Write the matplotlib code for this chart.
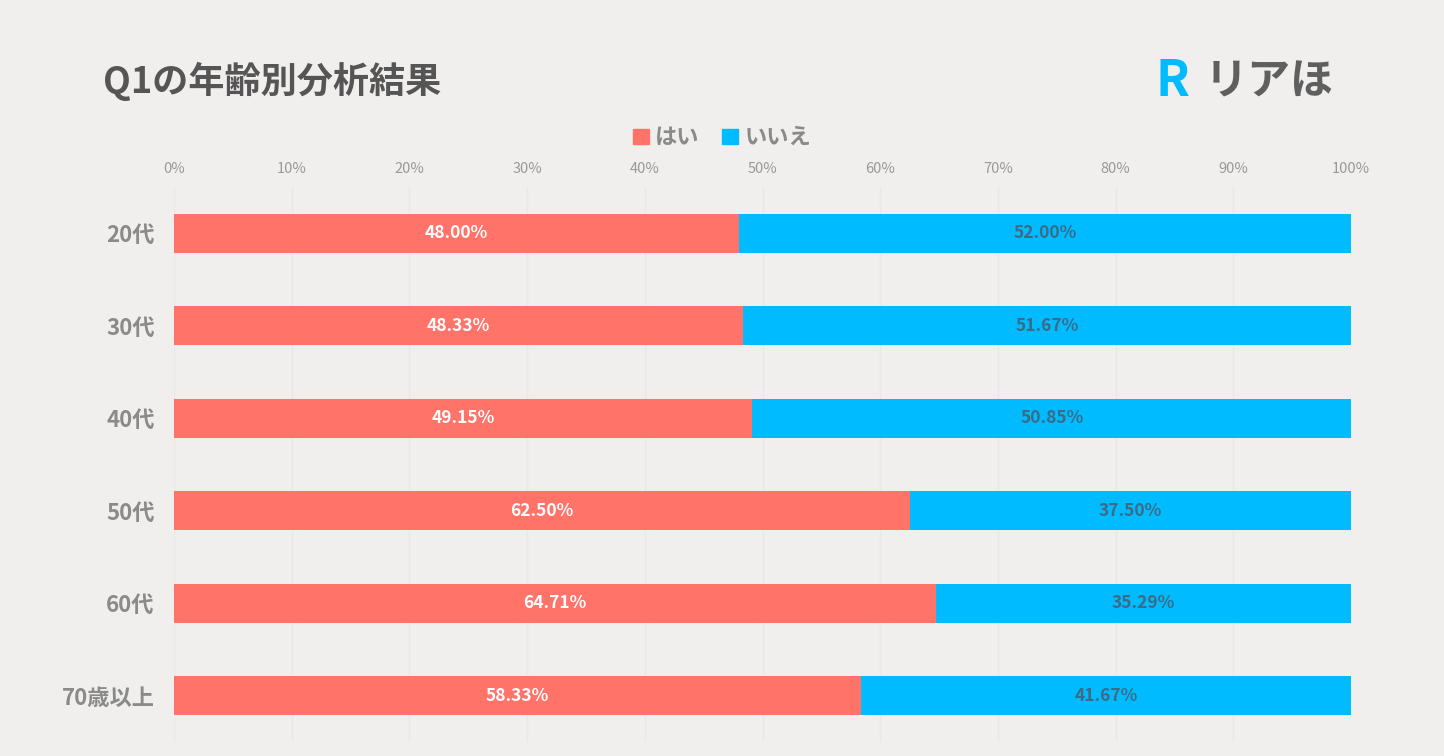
import matplotlib
matplotlib.use('Agg')
import matplotlib.pyplot as plt
from matplotlib.patches import Patch

plt.rcParams['font.family'] = ['Noto Sans CJK JP', 'DejaVu Sans']

categories = ['20代', '30代', '40代', '50代', '60代', '70歳以上']
yes_pct = [48.00, 48.33, 49.15, 62.50, 64.71, 58.33]
no_pct = [52.00, 51.67, 50.85, 37.50, 35.29, 41.67]
xticks = [0, 10, 20, 30, 40, 50, 60, 70, 80, 90, 100]

bg = '#f0efed'
red = '#ff7369'
blue = '#00bbff'

fig = plt.figure(figsize=(14.44, 7.56), dpi=100, facecolor=bg)
ax = fig.add_axes([0.1205, 0.0185, 0.8151, 0.7341], facecolor=bg)

y = list(range(len(categories)))
ax.barh(y, yes_pct, height=0.42, color=red, label='はい')
ax.barh(y, no_pct, left=yes_pct, height=0.42, color=blue, label='いいえ')

for i in y:
    ax.text(yes_pct[i] / 2, i, f'{yes_pct[i]:.2f}%', ha='center', va='center',
            color='white', fontsize=12.5, fontweight='bold')
    ax.text(yes_pct[i] + no_pct[i] / 2, i, f'{no_pct[i]:.2f}%', ha='center', va='center',
            color='#3d6a85', fontsize=12.5, fontweight='bold')

ax.set_xlim(0, 100)
ax.set_ylim(len(categories) - 0.5, -0.5)
ax.set_xticks(xticks)
ax.set_xticklabels([f'{t}%' for t in xticks], color='#999999', fontsize=10.5)
ax.xaxis.tick_top()
ax.tick_params(axis='x', length=0, pad=8)
ax.set_yticks(y)
ax.set_yticklabels(categories, color='#8a8a8a', fontsize=16, fontweight='bold')
ax.tick_params(axis='y', length=0, pad=14)
ax.grid(axis='x', color='#e6e9ec', linewidth=1)
ax.set_axisbelow(True)
for s in ax.spines.values():
    s.set_visible(False)

fig.text(0.071, 0.892, 'Q1の年齢別分析結果', fontsize=26, fontweight='bold',
         color='#555555', va='center')
fig.text(0.800, 0.892, 'R', fontsize=36, fontweight='bold', color=blue, va='center')
fig.text(0.834, 0.892, 'リアほ', fontsize=31, fontweight='bold', color='#5f5f5f', va='center')

handles = [Patch(color=red, label='はい'), Patch(color=blue, label='いいえ')]
leg = fig.legend(handles=handles, loc='center', bbox_to_anchor=(0.5, 0.818), ncol=2,
                 frameon=False, fontsize=16, handlelength=0.7, handleheight=0.7,
                 handletextpad=0.3, columnspacing=1.0)
for t in leg.get_texts():
    t.set_color('#8a8a8a')
    t.set_fontweight('bold')

fig.savefig('out.png', dpi=100, facecolor=bg)
